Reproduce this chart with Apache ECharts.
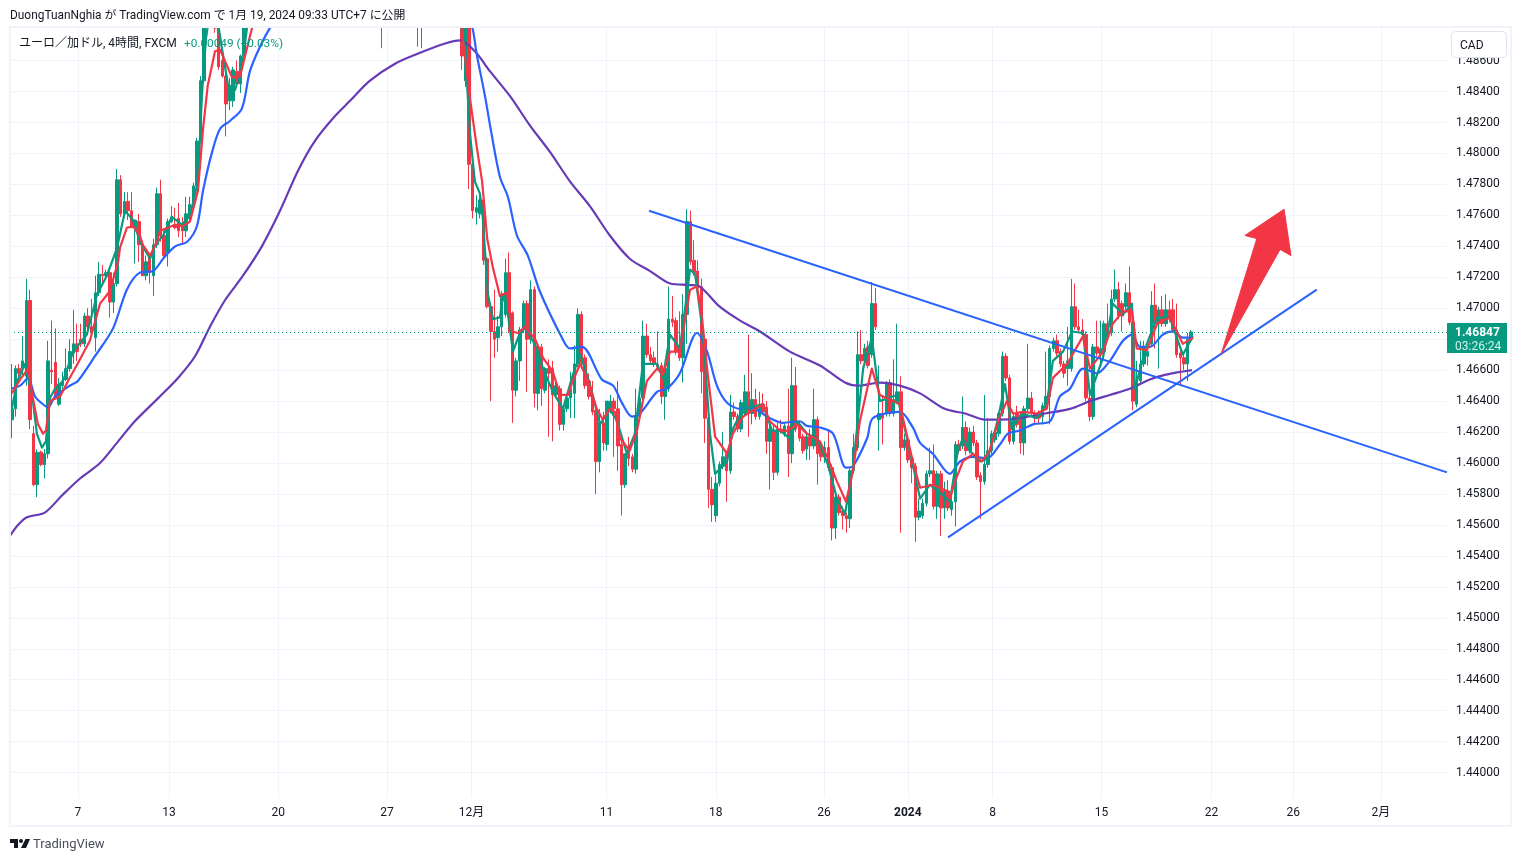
<!DOCTYPE html>
<html>
<head>
<meta charset="utf-8">
<title>EUR/CAD 4H</title>
<script src="https://cdn.jsdelivr.net/npm/echarts@6/dist/echarts.min.js"></script>
<style>
html, body { margin: 0; padding: 0; background: #fff; }
#main { width: 1521px; height: 861px; }
</style>
</head>
<body>
<div id="main"></div>
<script>
// quotes are written in pips above 1: 4684 means 1.4684
// one row per 4h candle: open, close, low, high
const risingLeg = [
[4628,4635,4616,4664],[4635,4661,4630,4663],[4661,4658,4655,4664],[4661,4666,4656,4682],[4656,4705,4650,4719],
[4705,4628,4622,4712],[4619,4586,4585,4624],[4586,4607,4578,4609],[4607,4599,4598,4608],[4599,4606,4590,4609],
[4606,4666,4603,4679],[4660,4659,4651,4692],[4665,4643,4642,4687],[4638,4651,4637,4655],[4650,4653,4648,4659],
[4654,4661,4653,4674],[4661,4672,4659,4680],[4671,4677,4664,4699],[4677,4672,4666,4690],[4680,4677,4675,4690],
[4677,4695,4675,4697],[4695,4688,4685,4700],[4688,4684,4682,4706],[4681,4710,4672,4721],[4710,4722,4708,4730],
[4722,4721,4716,4728],[4721,4723,4719,4725],[4723,4704,4694,4724],[4704,4716,4697,4723],[4716,4783,4714,4790],
[4783,4761,4759,4786],[4761,4769,4760,4775],[4769,4763,4757,4775],[4763,4752,4752,4775],[4752,4757,4729,4757],
[4756,4741,4730,4761],[4741,4721,4721,4743],[4721,4730,4718,4734],[4733,4723,4716,4734],[4721,4741,4708,4745],
[4741,4774,4739,4778],[4774,4747,4743,4783],[4747,4734,4733,4750],[4736,4756,4727,4758],[4756,4759,4755,4766],
[4754,4752,4751,4765],[4758,4750,4746,4768],[4754,4750,4741,4759],[4750,4761,4746,4772],[4758,4767,4756,4772],
[4767,4779,4765,4781],[4779,4808,4777,4810],[4808,4847,4807,4850],[4847,4885,4846,4892],[4885,4905,4880,4912],
[4905,4920,4900,4925],[4915,4881,4878,4920],[4881,4856,4854,4890],[4860,4850,4849,4866],[4850,4832,4811,4857],
[4834,4844,4828,4849],[4834,4854,4830,4856],[4853,4845,4844,4860],[4845,4863,4839,4864],[4863,4885,4861,4892]
];
// candles 65-123 sit above the visible price range, only these wicks reach into it
const wicksIntoView = { 102: [4900,4890,4868,4905], 112: [4900,4890,4869,4905], 113: [4885,4895,4868,4900] };
const fallingLeg = [
[4881,4863,4854,4895],[4847,4885,4843,4890],[4881,4793,4777,4890],[4793,4763,4758,4795],[4762,4765,4754,4773],
[4761,4770,4758,4772],[4770,4731,4728,4772],[4732,4701,4700,4733],[4701,4685,4640,4702],[4685,4680,4668,4712],
[4681,4688,4672,4695],[4688,4709,4682,4711],[4696,4723,4694,4732],[4723,4696,4684,4736],[4697,4647,4626,4698],
[4647,4666,4643,4668],[4666,4686,4653,4688],[4686,4703,4684,4705],[4703,4680,4646,4705],[4680,4712,4677,4718],
[4712,4645,4636,4714],[4645,4674,4634,4676],[4675,4648,4637,4677],[4647,4661,4645,4662],[4661,4658,4617,4667],
[4661,4644,4614,4666],[4644,4650,4643,4652],[4648,4625,4621,4650],[4625,4635,4621,4637],[4635,4642,4633,4644],
[4642,4648,4629,4659],[4645,4664,4629,4676],[4664,4696,4662,4700],[4696,4665,4663,4698],[4668,4650,4648,4670],
[4653,4643,4641,4658],[4644,4633,4631,4653],[4634,4601,4580,4636],[4601,4626,4594,4635],[4626,4613,4608,4633],
[4612,4640,4608,4640],[4633,4640,4632,4644],[4640,4635,4604,4642],[4635,4611,4595,4653],[4612,4586,4566,4614],
[4586,4606,4584,4606],[4608,4603,4598,4617],[4604,4596,4594,4606],[4596,4630,4593,4648],[4630,4642,4627,4643],
[4642,4682,4640,4692],[4682,4670,4668,4690],[4670,4666,4664,4675],[4668,4664,4662,4672],[4664,4662,4661,4685],
[4663,4643,4638,4665],[4643,4661,4628,4663],[4648,4693,4646,4714],[4693,4691,4688,4708],[4692,4672,4670,4694],
[4674,4668,4666,4698],[4668,4696,4652,4709],[4696,4756,4677,4764],[4756,4730,4728,4763],[4731,4723,4721,4744],
[4724,4713,4711,4731],[4714,4659,4645,4719],[4680,4629,4613,4682],[4629,4583,4571,4631],[4583,4573,4562,4591],
[4566,4587,4562,4592],[4587,4599,4585,4601],[4598,4604,4596,4620],[4606,4595,4575,4608],[4595,4633,4593,4644],
[4633,4630,4628,4639],[4630,4622,4620,4632],[4622,4639,4620,4641],[4632,4646,4630,4657],[4646,4632,4617,4683],
[4632,4641,4625,4658],[4641,4630,4628,4648],[4630,4638,4628,4646],[4638,4633,4631,4645],[4636,4614,4606,4640],
[4614,4622,4583,4630],[4621,4594,4589,4624],[4594,4622,4592,4627],[4622,4621,4619,4628],[4619,4624,4617,4626],
[4624,4606,4591,4648],[4606,4650,4600,4668],[4650,4622,4620,4662],[4625,4616,4614,4627],[4617,4608,4606,4619],
[4609,4617,4602,4619],[4617,4611,4602,4622],[4611,4628,4609,4648],[4628,4606,4586,4630],[4611,4604,4601,4613],
[4604,4610,4600,4614],[4610,4597,4595,4622],[4597,4558,4550,4599],[4558,4578,4551,4582],[4578,4568,4566,4580],
[4569,4566,4557,4572],[4566,4564,4555,4568],[4564,4595,4558,4597],[4595,4610,4593,4619],[4610,4670,4608,4685],
[4670,4666,4664,4686],[4666,4674,4664,4677],[4675,4663,4661,4679],[4670,4703,4668,4717],[4703,4688,4686,4713],
[4628,4632,4608,4663],[4632,4629,4612,4643],[4632,4652,4630,4653],[4652,4632,4630,4654],[4632,4641,4630,4667],
[4640,4646,4638,4690],[4646,4610,4555,4656],[4610,4615,4608,4619],[4615,4602,4600,4617],[4603,4597,4587,4605],
[4598,4565,4549,4600],[4565,4569,4563,4577],[4566,4574,4564,4577],[4574,4593,4572,4595],[4593,4595,4591,4610],
[4595,4572,4570,4612],[4572,4593,4564,4595],[4593,4571,4553,4595],[4571,4582,4564,4588],[4582,4571,4569,4589],
[4570,4575,4566,4578],[4575,4612,4559,4614],[4612,4608,4606,4615],[4611,4623,4609,4643],[4623,4608,4605,4627],
[4608,4620,4606,4623],[4620,4613,4611,4624],[4613,4591,4589,4615],[4592,4588,4564,4594],[4588,4599,4586,4644],
[4599,4608,4597,4629],[4608,4619,4606,4621],[4615,4620,4613,4622],[4619,4632,4617,4633],[4632,4669,4630,4672],
[4669,4655,4653,4671],[4655,4614,4612,4657],[4614,4630,4612,4632],[4632,4625,4623,4637],[4631,4613,4606,4633],
[4613,4635,4605,4637],[4635,4642,4633,4677],[4642,4633,4631,4646],[4632,4629,4625,4634],[4632,4629,4625,4634],
[4630,4637,4625,4639],[4637,4643,4635,4672],[4643,4674,4625,4676],[4674,4679,4672,4681],[4679,4671,4669,4683],
[4672,4664,4662,4674],[4664,4658,4655,4666],[4661,4666,4650,4688],[4661,4701,4659,4719],[4701,4688,4686,4716],
[4688,4686,4684,4699],[4686,4683,4681,4693],[4683,4642,4640,4685],[4642,4630,4627,4644],[4630,4675,4628,4677],
[4675,4671,4669,4692],[4670,4674,4663,4692],[4672,4690,4670,4692],[4690,4683,4681,4703],[4684,4706,4682,4712],
[4706,4712,4704,4725],[4712,4695,4693,4717],[4703,4695,4685,4705],[4701,4710,4699,4716],[4710,4691,4689,4727],
[4691,4640,4634,4693],[4638,4653,4636,4666],[4653,4664,4651,4679],[4664,4674,4662,4679],[4669,4672,4663,4675],
[4677,4702,4675,4711],[4702,4690,4674,4716],[4690,4699,4661,4701],[4699,4690,4688,4708],[4690,4699,4688,4709],
[4699,4693,4691,4705],[4699,4686,4684,4706],[4686,4670,4668,4703],[4671,4668,4651,4673],[4668,4664,4660,4670],
[4664,4680,4653,4684],[4680,4684.7,4678,4686]
];

// moving averages as [bar number, pips]
const purpleLine = [[-0.5,4553],[1.7,4560],[4.2,4565],[9.1,4568],[13.8,4579],[18.8,4590],[24.3,4600],[29.3,4614],[33.9,4627],[40.8,4643],[45.8,4655],[50.5,4669],[54.6,4688],[58.7,4705],[63.7,4721],[68.9,4740],[73.9,4763],[78.9,4789],[83.5,4808],[89,4824],[93.2,4834],[98.7,4847],[105.6,4858],[112.5,4865],[119.4,4871],[123.5,4873],[127.6,4866],[131.8,4853],[137.3,4837],[142.8,4818],[148.3,4801],[153.8,4782],[159.3,4766],[164.8,4747],[170.3,4732],[175.9,4724],[181.4,4716],[186.9,4715],[189.6,4714],[195.1,4701],[200.7,4692],[206.2,4685],[214.4,4672],[222.7,4663],[229.6,4652],[233.2,4650],[239.2,4652],[244.7,4650],[250.3,4645],[257.1,4635],[262.7,4632],[268.2,4628],[272.3,4628],[277.8,4629],[284.7,4632],[291.6,4635],[297.1,4640],[302.6,4644],[308.1,4648],[313.6,4654],[317.8,4657],[325.2,4660]];
const blueLine = [[-0.5,4648],[2.3,4650],[4.5,4655],[6.4,4643],[9.1,4637],[10,4636],[11.9,4643],[16,4650],[18.2,4653],[22.9,4669],[27.9,4687],[31.7,4712],[35.3,4723],[38.9,4724],[41.7,4732],[45,4740],[48.3,4743],[51,4753],[52.7,4776],[55.2,4801],[57.4,4816],[60.1,4821],[63.4,4829],[65.6,4853],[68.4,4869],[71.1,4881],[79.4,4911],[101.5,4937],[118,4924],[123.5,4895],[126.5,4885],[128.2,4863],[130.4,4837],[131.8,4818],[134.5,4785],[136.7,4772],[139.2,4747],[142.2,4734],[145.5,4711],[151.6,4681],[153.8,4674],[157.1,4675],[162.6,4654],[165.7,4650],[168.1,4639],[170.9,4630],[173.1,4632],[177.8,4646],[180.5,4648],[184.1,4658],[188.8,4684],[191.6,4672],[194.3,4650],[197.1,4639],[200.7,4635],[203.4,4636],[208.9,4629],[212.5,4626],[217.2,4627],[219.1,4624],[222.7,4623],[226.3,4619],[229.9,4597],[231.8,4598],[235.7,4616],[237.3,4629],[244.7,4633],[248.3,4623],[250.3,4613],[253.8,4606],[258.5,4593],[261.3,4601],[264.9,4604],[268.7,4603],[272.3,4612],[274.5,4619],[277.8,4621],[281.4,4625],[286.1,4627],[288.8,4643],[291.6,4648],[295.2,4661],[299,4658],[302.6,4666],[306.2,4679],[308.7,4683],[310.9,4675],[313.6,4675],[317.2,4683],[320,4685],[322.7,4681],[325.5,4681]];
const redLine = [[0,4645],[2.3,4654],[4.5,4661],[5.8,4642],[7.2,4625],[8.6,4619],[9.4,4621],[10.5,4640],[13.3,4643],[15.5,4653],[18.8,4667],[21.5,4679],[24.3,4703],[27,4711],[29.3,4730],[29.8,4739],[31.7,4752],[33.4,4753],[35.3,4747],[36.1,4741],[38.1,4734],[40,4743],[40.8,4750],[43,4752],[45,4754],[47.2,4753],[49.1,4756],[51.3,4776],[52.7,4816],[54,4844],[56,4866],[57.4,4867],[58.7,4860],[60.7,4849],[62.9,4850],[64.8,4868],[66.2,4881],[71.1,4918],[101.5,4944],[122.1,4911],[124,4879],[126.3,4835],[128.2,4803],[129.6,4782],[131,4745],[132.6,4726],[134.5,4708],[136.5,4710],[137.8,4685],[139.5,4684],[141.4,4688],[144.2,4680],[146.4,4668],[149.1,4659],[151.1,4644],[153.3,4644],[154.6,4653],[156.6,4664],[158.5,4655],[161.2,4635],[162.9,4628],[164.8,4635],[166.2,4633],[167.6,4616],[170.3,4608],[172.3,4621],[175,4653],[177.8,4661],[179.4,4657],[181.4,4672],[184.1,4672],[186.9,4712],[188.8,4714],[190.2,4694],[191.6,4661],[193.8,4617],[197.1,4606],[198.7,4619],[201.5,4630],[207,4638],[208.9,4627],[211.7,4621],[213.9,4621],[216.4,4625],[219.1,4619],[222.7,4614],[224.9,4603],[227.4,4588],[229.9,4575],[231.8,4595],[233.7,4627],[237,4661],[239.2,4644],[242,4641],[244.7,4638],[248.3,4601],[250.3,4584],[253.8,4586],[257.7,4582],[258.5,4577],[259.9,4588],[262.1,4601],[264.9,4606],[267.3,4601],[269.5,4608],[271.8,4627],[274.2,4640],[275.9,4632],[278.6,4633],[282.5,4632],[285.2,4635],[286.9,4655],[290.8,4664],[295.2,4682],[297.1,4661],[300.7,4672],[303.4,4690],[306.2,4698],[308.7,4698],[310,4674],[312.8,4673],[315.6,4690],[319.1,4694],[322.7,4677],[325.5,4681]];
const greenLine = [[0,4635],[1.4,4652],[3.6,4664],[5.6,4644],[6.9,4619],[8.3,4610],[9.4,4614],[10.5,4642],[11.9,4648],[14.1,4653],[16.9,4672],[20.7,4683],[23.5,4709],[26.2,4721],[29,4739],[31.2,4763],[33.4,4757],[35.3,4743],[38.1,4732],[39.5,4741],[41.7,4747],[44.1,4759],[46.9,4754],[49.1,4760],[51.3,4782],[52.4,4838],[53.5,4874],[54.6,4892],[56.5,4889],[57.9,4868],[59.6,4844],[61.5,4841],[63.4,4855],[64.8,4881],[69.8,4924],[101.5,4956],[120.7,4924],[124.9,4866],[126.3,4812],[127.6,4782],[129,4774],[129.8,4758],[131.2,4709],[132.6,4693],[134.5,4694],[135.4,4709],[136.7,4696],[138.1,4672],[139.5,4681],[141.4,4688],[144.7,4674],[146.4,4661],[149.1,4646],[151.9,4635],[154.6,4657],[156.6,4670],[159.3,4651],[162.1,4625],[164.8,4635],[166.8,4627],[169.5,4606],[171.7,4619],[173.9,4664],[177.8,4664],[179.4,4655],[181.4,4683],[184.1,4674],[186.9,4725],[188.3,4722],[190.5,4683],[192.4,4619],[193.8,4593],[197.1,4601],[198.7,4622],[201.5,4635],[207,4638],[209.5,4621],[211.7,4621],[214.4,4616],[216.4,4627],[219.1,4619],[221.9,4616],[224.9,4599],[227.4,4577],[229.6,4567],[231.8,4597],[234.6,4661],[237,4681],[239.2,4640],[243.9,4644],[246.7,4616],[250.3,4577],[253,4586],[257.7,4577],[258.5,4575],[260.7,4608],[262.1,4616],[264,4608],[266.8,4601],[269,4603],[271.8,4629],[273.7,4651],[275.6,4622],[278.4,4632],[282.5,4629],[285.2,4638],[286.9,4666],[289.7,4672],[292.2,4685],[295.2,4684],[297.1,4644],[300.7,4668],[303.4,4703],[306.2,4696],[308.7,4703],[309.5,4648],[312.8,4677],[315.6,4694],[319.1,4694],[322.7,4670],[325.5,4682]];

// hand drawn trend lines and the arrow, same units
const fallingTrend = [[175.6,4763],[395.5,4594]];
const risingTrend = [[258,4552],[359.6,4712]];
const arrowShape = [[333.2,4670],[343.1,4745],[339.8,4747],[350.6,4764],[352.5,4734],[349.5,4738]];

const barCount = 396;
const tickBars = [18.2,43.3,73.4,103.4,126.7,163.9,194,223.8,246.9,270.3,300.3,330.6,353.1,377.3];
const tickLabels = ['7','13','20','27','12月','11','18','26','2024','8','15','22','26','2月'];
const priceTicks = [1.44,1.442,1.444,1.446,1.448,1.45,1.452,1.454,1.456,1.458,1.46,1.462,1.464,1.466,1.468,1.47,1.472,1.474,1.476,1.478,1.48,1.482,1.484,1.486];
const lastPrice = 1.46847;

const GREEN = '#089981', RED = '#F23645', BLUE = '#2962FF', PURPLE = '#673AB7';
const TEXT = '#131722', GRID = '#f0f3fa';
const FONT = 'Roboto, "Noto Sans CJK JP", sans-serif';

const toPrice = pips => 1 + pips / 10000;
const toPoints = list => list.map(p => [p[0], toPrice(p[1])]);

const candleRows = [];
risingLeg.forEach(r => candleRows.push(r.map(toPrice)));
for (let i = risingLeg.length; i < 124; i++) {
    candleRows.push(wicksIntoView[i] ? wicksIntoView[i].map(toPrice) : ['-', '-', '-', '-']);
}
fallingLeg.forEach(r => candleRows.push(r.map(toPrice)));
const categories = Array.from({ length: barCount }, (_, i) => String(i));

function maLine(name, points, color, z, width, smooth) {
    return {
        name, type: 'line', xAxisIndex: 0, data: toPoints(points), showSymbol: false, silent: true, z, smooth,
        lineStyle: { color, width, join: 'round' }
    };
}

const myChart = echarts.init(document.getElementById('main'));
myChart.setOption({
    animation: false,
    backgroundColor: '#fff',
    grid: { left: 10, top: 27, width: 1437, height: 771 },
    xAxis: [
        {
            type: 'value', min: -0.5, max: 395.5,
            axisLine: { show: false },
            axisTick: { show: false, customValues: tickBars },
            splitLine: { show: true, lineStyle: { color: GRID, width: 1 } },
            axisLabel: {
                customValues: tickBars, margin: 9, color: TEXT, fontFamily: FONT, fontSize: 12,
                showMinLabel: true, showMaxLabel: true,
                formatter: v => {
                    const s = tickLabels[tickBars.indexOf(v)];
                    return s === '2024' ? '{b|2024}' : s;
                },
                rich: { b: { fontWeight: 'bold', color: TEXT, fontFamily: FONT, fontSize: 12 } }
            }
        },
        { type: 'category', data: categories, show: false }
    ],
    yAxis: {
        type: 'value', position: 'right', min: 1.43836, max: 1.48817, scale: true,
        axisLine: { show: false },
        axisTick: { show: false, customValues: priceTicks },
        splitLine: { show: true, lineStyle: { color: GRID, width: 1 } },
        axisLabel: {
            customValues: priceTicks, margin: 9, color: TEXT, fontFamily: FONT, fontSize: 12,
            formatter: v => v.toFixed(5)
        }
    },
    series: [
        {
            name: 'EUR/CAD', type: 'candlestick', xAxisIndex: 1, data: candleRows, barWidth: 3, silent: true, z: 3, clip: true,
            itemStyle: { color: GREEN, color0: RED, borderColor: GREEN, borderColor0: RED, borderWidth: 1 },
            markLine: {
                silent: true, symbol: 'none', animation: false, precision: 5, label: { show: false },
                lineStyle: { color: GREEN, type: [1, 3], width: 1 },
                data: [{ yAxis: lastPrice }]
            }
        },
        maLine('slow', purpleLine, PURPLE, 4, 2.2, 0.3),
        maLine('mid', blueLine, BLUE, 4, 2.2, 0.3),
        maLine('fast 1', greenLine, GREEN, 4, 2.2, false),
        maLine('fast 2', redLine, RED, 5, 2.2, false),
        maLine('trend down', fallingTrend, BLUE, 6, 2, false),
        maLine('trend up', risingTrend, BLUE, 6, 2, false),
        {
            type: 'custom', xAxisIndex: 0, silent: true, z: 7,
            data: toPoints(arrowShape),
            renderItem: (params, api) => {
                if (params.dataIndex !== 0) return null;
                const pts = toPoints(arrowShape).map(p => api.coord(p));
                return { type: 'polygon', shape: { points: pts }, style: { fill: RED, stroke: RED, lineWidth: 1, lineJoin: 'round' } };
            }
        }
    ],
    graphic: [
        // candles above the pane stop at its top edge
        { type: 'rect', z: 50, silent: true, shape: { x: 0, y: 0, width: 1521, height: 27 }, style: { fill: '#fff' } },
        { type: 'rect', z: 90, silent: true, shape: { x: 10, y: 27, width: 1501, height: 799 }, style: { fill: 'none', stroke: GRID, lineWidth: 2 } },
        { type: 'text', z: 100, x: 10, y: 10, style: { text: 'DuongTuanNghia が TradingView.com で 1月 19, 2024 09:33 UTC+7 に公開', fill: TEXT, font: '11.9px ' + FONT } },
        { type: 'text', z: 100, x: 19, y: 38, style: { text: 'ユーロ／加ドル, 4時間, FXCM', fill: TEXT, font: '12px ' + FONT } },
        { type: 'text', z: 100, x: 184, y: 38, style: { text: '+0.00049 (+0.03%)', fill: GREEN, font: '11.8px ' + FONT } },
        // price scale box
        { type: 'rect', z: 100, shape: { x: 1451.5, y: 31.5, width: 55, height: 26, r: 4 }, style: { fill: '#fff', stroke: '#e0e3eb', lineWidth: 1 } },
        { type: 'text', z: 101, x: 1460, y: 40, style: { text: 'CAD', fill: TEXT, font: '12px ' + FONT } },
        // last price tag
        { type: 'rect', z: 100, shape: { x: 1447, y: 323, width: 60, height: 30 }, style: { fill: GREEN } },
        { type: 'text', z: 101, x: 1455, y: 327, style: { text: '1.46847', fill: '#fff', font: 'bold 12px ' + FONT } },
        { type: 'text', z: 101, x: 1455, y: 341, style: { text: '03:26:24', fill: '#d4f0ea', font: '12px ' + FONT } },
        // logo
        { type: 'polygon', z: 100, shape: { points: [[10,839],[18,839],[18,848],[14,848],[14,843],[10,843]] }, style: { fill: TEXT } },
        { type: 'circle', z: 100, shape: { cx: 21, cy: 841, r: 2 }, style: { fill: TEXT } },
        { type: 'polygon', z: 100, shape: { points: [[25.5,839],[30,839],[26,848],[21,848]] }, style: { fill: TEXT } },
        { type: 'text', z: 100, x: 33, y: 838, style: { text: 'TradingView', fill: '#4a4e59', font: '13px ' + FONT } }
    ]
});
</script>
</body>
</html>
